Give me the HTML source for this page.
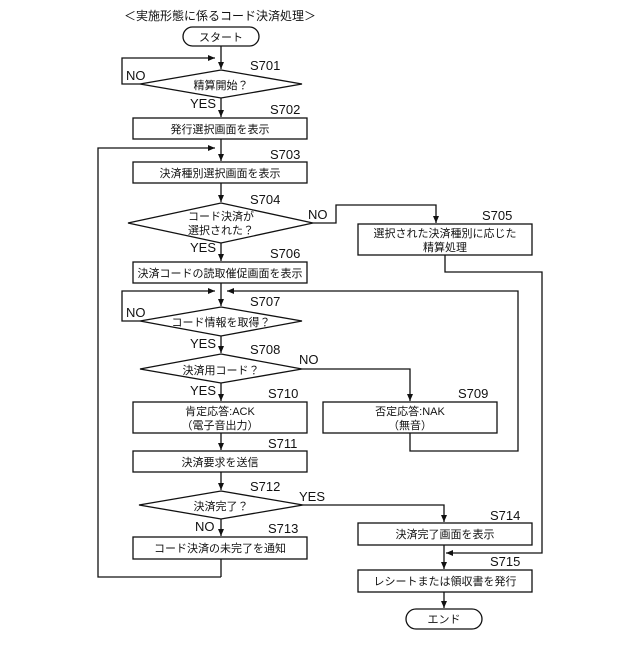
<!DOCTYPE html>
<html><head><meta charset="utf-8"><style>
body{margin:0;background:#fff}
svg text{font-family:"Liberation Sans","Noto Sans CJK JP",sans-serif;fill:#111}
</style></head><body>
<svg width="640" height="640" viewBox="0 0 640 640" xmlns="http://www.w3.org/2000/svg">
<defs><marker id="a" markerWidth="8" markerHeight="8" refX="7" refY="4" orient="auto" markerUnits="userSpaceOnUse"><path d="M0,1 L7,4 L0,7z" fill="#111"/></marker></defs>
<g stroke="#111" stroke-width="1.3" fill="none">
<text x="220" y="20" font-size="12" text-anchor="middle" stroke="none">＜実施形態に係るコード決済処理＞</text>
<rect x="183" y="27" width="76" height="19" rx="9.5" fill="#fff"/>
<line x1="221" y1="46" x2="221" y2="69" marker-end="url(#a)"/>
<polyline points="140,84 122,84 122,58 215,58" marker-end="url(#a)"/>
<polygon points="221,70 302,84 221,98 140,84" fill="#fff"/>
<line x1="221" y1="98" x2="221" y2="117" marker-end="url(#a)"/>
<rect x="133" y="118" width="174" height="21" fill="#fff"/>
<line x1="221" y1="139" x2="221" y2="161" marker-end="url(#a)"/>
<polyline points="221,577 221,559"/>
<polyline points="221,577 98,577 98,148 215,148" marker-end="url(#a)"/>
<rect x="133" y="162" width="174" height="21" fill="#fff"/>
<line x1="221" y1="183" x2="221" y2="202" marker-end="url(#a)"/>
<polygon points="221,203 313,223 221,243 128,223" fill="#fff"/>
<polyline points="313,223 336,223 336,205 436,205 436,223" marker-end="url(#a)"/>
<rect x="358" y="224" width="174" height="31" fill="#fff"/>
<polyline points="445,255 445,272 542,272 542,553 446,553" marker-end="url(#a)"/>
<line x1="221" y1="243" x2="221" y2="261" marker-end="url(#a)"/>
<rect x="133" y="262" width="174" height="21" fill="#fff"/>
<line x1="221" y1="283" x2="221" y2="306" marker-end="url(#a)"/>
<polyline points="140,321 122,321 122,291 215,291" marker-end="url(#a)"/>
<polyline points="410,433 410,451 518,451 518,291 227,291" marker-end="url(#a)"/>
<polygon points="221,307 302,321 221,336 140,321" fill="#fff"/>
<line x1="221" y1="336" x2="221" y2="353" marker-end="url(#a)"/>
<polygon points="221,354 302,369 221,383 140,369" fill="#fff"/>
<polyline points="302,369 410,369 410,401" marker-end="url(#a)"/>
<line x1="221" y1="383" x2="221" y2="401" marker-end="url(#a)"/>
<rect x="133" y="402" width="174" height="31" fill="#fff"/>
<rect x="323" y="402" width="174" height="31" fill="#fff"/>
<line x1="221" y1="433" x2="221" y2="450" marker-end="url(#a)"/>
<rect x="133" y="451" width="174" height="21" fill="#fff"/>
<line x1="221" y1="472" x2="221" y2="490" marker-end="url(#a)"/>
<polygon points="221,491 303,505 221,519 139,505" fill="#fff"/>
<polyline points="303,505 444,505 444,522" marker-end="url(#a)"/>
<line x1="221" y1="519" x2="221" y2="536" marker-end="url(#a)"/>
<rect x="133" y="537" width="174" height="22" fill="#fff"/>
<rect x="358" y="523" width="174" height="22" fill="#fff"/>
<line x1="444" y1="545" x2="444" y2="569" marker-end="url(#a)"/>
<rect x="358" y="570" width="174" height="22" fill="#fff"/>
<line x1="444" y1="592" x2="444" y2="608" marker-end="url(#a)"/>
<rect x="406" y="609" width="76" height="20" rx="10" fill="#fff"/>
</g>
<g font-size="11" text-anchor="middle">
<text x="221" y="41">スタート</text>
<text x="221" y="89">精算開始？</text>
<text x="220" y="133">発行選択画面を表示</text>
<text x="220" y="177">決済種別選択画面を表示</text>
<text x="221" y="220">コード決済が</text>
<text x="221" y="234">選択された？</text>
<text x="445" y="237">選択された決済種別に応じた</text>
<text x="445" y="251">精算処理</text>
<text x="220" y="277">決済コードの読取催促画面を表示</text>
<text x="221" y="326">コード情報を取得？</text>
<text x="221" y="374">決済用コード？</text>
<text x="220" y="415">肯定応答:ACK</text>
<text x="220" y="429">（電子音出力）</text>
<text x="410" y="415">否定応答:NAK</text>
<text x="410" y="429">（無音）</text>
<text x="220" y="466">決済要求を送信</text>
<text x="221" y="510">決済完了？</text>
<text x="220" y="552">コード決済の未完了を通知</text>
<text x="445" y="538">決済完了画面を表示</text>
<text x="445" y="585">レシートまたは領収書を発行</text>
<text x="444" y="623">エンド</text>
</g>
<g font-size="13" fill="#111">
<text x="250" y="70">S701</text><text x="270" y="114">S702</text><text x="270" y="159">S703</text>
<text x="250" y="204">S704</text><text x="482" y="220">S705</text><text x="270" y="258">S706</text>
<text x="250" y="306">S707</text><text x="250" y="354">S708</text><text x="458" y="398">S709</text>
<text x="268" y="398">S710</text><text x="268" y="448">S711</text><text x="250" y="491">S712</text>
<text x="268" y="533">S713</text><text x="490" y="520">S714</text><text x="490" y="566">S715</text>
<text x="126" y="80">NO</text><text x="190" y="108">YES</text>
<text x="308" y="219">NO</text><text x="190" y="252">YES</text>
<text x="126" y="317">NO</text><text x="190" y="348">YES</text>
<text x="299" y="364">NO</text><text x="190" y="395">YES</text>
<text x="299" y="501">YES</text><text x="195" y="531">NO</text>
</g>
</svg>
</body></html>
